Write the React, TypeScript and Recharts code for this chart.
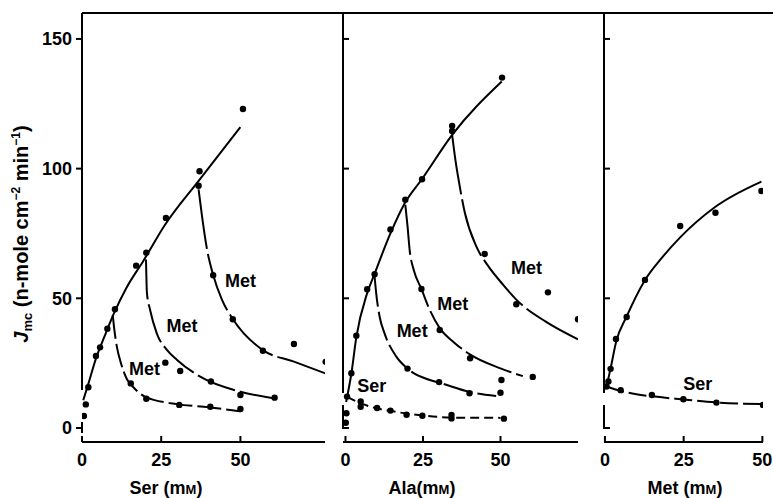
import React from 'react'
import { ComposedChart, Line, Scatter, XAxis, YAxis, ReferenceDot } from 'recharts'

const FONT = '"Liberation Sans", Arial, Helvetica, sans-serif'

// ---- Ser panel (left) ----
const serPtsX = [0.6, 1.2, 2.0, 4.4, 5.7, 8.0, 10.4, 17.1, 20.3, 26.5, 36.8, 37.1, 50.8]
const serPtsY = [4.6, 9.1, 15.7, 27.8, 31.1, 38.3, 45.8, 62.6, 67.6, 81.0, 93.4, 99.0, 123.0]
const serFitX = [0.4, 2, 4.6, 7, 10, 14, 19.4, 26, 37, 50]
const serFitY = [10.7, 17, 27.5, 35, 44, 54, 64.5, 78, 95.6, 116]

const serMetAX = [15.4, 20.3, 30.7, 40.5, 50.0]
const serMetAY = [17.2, 11.3, 8.9, 8.2, 7.3]
const serMetAFitX = [9.7, 10.2, 11, 12.3, 14.1, 16, 20, 30, 40, 50]
const serMetAFitY = [43.6, 38, 31.4, 25, 19, 16, 12, 9.2, 8, 6.4]

const serMetBX = [26.3, 31.0, 40.7, 50.0, 60.8]
const serMetBY = [25.2, 22.0, 17.9, 12.7, 11.7]
const serMetBFitX = [20.2, 20.5, 21.5, 23.6, 26.8, 30, 37.3, 50, 60.8]
const serMetBFitY = [65, 52, 45.5, 36.5, 30.1, 26.2, 19.8, 14, 11.4]

const serMetCX = [41.4, 47.6, 57.1, 66.9, 76.9]
const serMetCY = [58.9, 41.9, 29.8, 32.4, 25.5]
const serMetCFitX = [36.8, 37.9, 39.5, 41.4, 44.2, 47.6, 57.1, 66.9, 76.9]
const serMetCFitY = [92, 81.5, 68.6, 59, 49.4, 42, 30, 25.6, 21]

// ---- Ala panel (middle) ----
const alaPtsX = [0.5, 1.9, 3.5, 7.0, 9.4, 14.5, 19.3, 24.7, 34.4, 34.4, 50.5]
const alaPtsY = [12.1, 21.1, 35.6, 53.5, 59.3, 76.5, 88.0, 95.9, 116.5, 114.5, 135.1]
const alaFitX = [0.2, 1.9, 3.5, 7, 9.4, 14.5, 19.3, 24.7, 34.4, 50.4]
const alaFitY = [10, 21, 35, 52, 59.5, 75, 87, 96, 113, 133.6]

const alaMetAX = [20.0, 30.2, 40.0, 50.0]
const alaMetAY = [22.9, 17.7, 13.4, 13.6]
const alaMetAFitX = [9.4, 9.9, 11, 12.6, 16.4, 20, 27.2, 30.2, 40, 48.6]
const alaMetAFitY = [58.3, 52, 43, 36.5, 27.5, 22.9, 18.5, 17.5, 13.9, 12.3]

const alaMetBX = [24.5, 30.4, 40.2, 50.3, 60.4]
const alaMetBY = [53.6, 37.8, 26.9, 18.5, 19.7]
const alaMetBFitX = [19.3, 20, 20.7, 22, 24.5, 27, 30.4, 35, 40, 50, 57.2]
const alaMetBFitY = [86, 78, 68.6, 61, 53.6, 46, 38.5, 33, 28.5, 23, 20]

const alaMetCX = [44.9, 55.1, 65.3, 75.0]
const alaMetCY = [67.1, 47.7, 52.3, 41.9]
const alaMetCFitX = [34.4, 35.5, 36.3, 38.5, 42.2, 46, 50.8, 55.1, 64.6, 75]
const alaMetCFitY = [113, 103, 97, 83, 70, 62.5, 55.3, 49.5, 41, 34.2]

const alaSerX = [0.1, 0.3, 4.9, 4.9, 10.2, 14.5, 19.7, 24.8, 34.2, 34.2, 51.1]
const alaSerY = [2, 5.7, 10.2, 8.2, 7.7, 6.7, 5.1, 4.7, 5.0, 3.7, 3.6]
const alaSerFitX = [0.5, 5, 10, 15, 20, 25, 35, 50]
const alaSerFitY = [12, 9.5, 7.6, 6.5, 5.5, 4.8, 4.0, 3.9]

// ---- Met panel (right) ----
const metPtsX = [0.5, 1.1, 1.8, 3.5, 6.9, 12.7, 23.9, 35.1, 49.7]
const metPtsY = [16, 17.9, 22.8, 34.3, 42.8, 57.1, 77.9, 83.0, 91.4]
const metFitX = [0.3, 1.8, 3.5, 6.9, 12.7, 18, 23.9, 35.1, 49.7]
const metFitY = [15, 23, 33, 43, 57, 65.5, 73.5, 85.3, 95]

const metSerX = [5, 14.9, 24.9, 35.4, 50.2]
const metSerY = [14.6, 12.7, 11.1, 9.8, 8.9]
const metSerFitX = [0.5, 5, 10, 15, 25, 35, 50]
const metSerFitY = [16, 14.3, 13, 12.2, 11, 9.9, 9.2]

const yTicks = [0, 50, 100, 150]
const xTicks = [0, 25, 50]

type Pt = { x: number; y: number }
const zip = (xs: number[], ys: number[]): Pt[] => xs.map((x, i) => ({ x, y: ys[i] }))

type Curve = { data: Pt[]; dash?: string }
type Note = { x: number; y: number; text: string }

const dotShape = (p: any) => <circle cx={p.cx} cy={p.cy} r={3.2} fill="#000" />

// x ticks: short mark pointing up into the plot, label below
const XTick = (p: any) => (
  <g>
    <line x1={p.x} x2={p.x} y1={p.y - 11} y2={p.y - 17} stroke="#000" strokeWidth={2} />
    <text x={p.x} y={p.y + 13} textAnchor="middle" fontSize={18} fontWeight="bold" fontFamily={FONT} fill="#000">
      {p.payload.value}
    </text>
  </g>
)

// y ticks for the right-hand panels: mark pointing right, no label
const YTickIn = (p: any) => (
  <line x1={p.x} x2={p.x + 6} y1={p.y} y2={p.y} stroke="#000" strokeWidth={2} />
)

function Panel(props: {
  left: number
  width: number
  xDomain: [number, number]
  labelled: boolean
  curves: Curve[]
  points: Pt[][]
  notes: Note[]
}) {
  const { left, width, xDomain, labelled, curves, points, notes } = props
  const axisStyle = { stroke: '#000', strokeWidth: 2 }
  return (
    <div style={{ position: 'absolute', left, top: 0 }}>
      <ComposedChart
        width={width}
        height={498}
        margin={{ top: 13, right: 10, bottom: 26, left: labelled ? 32 : 0 }}
      >
        <XAxis
          type="number"
          dataKey="x"
          domain={xDomain}
          allowDataOverflow
          ticks={xTicks}
          height={30}
          tickSize={0}
          tickMargin={11}
          axisLine={axisStyle}
          tickLine={false}
          tick={XTick}
        />
        {labelled ? (
          <YAxis
            type="number"
            dataKey="y"
            domain={[-5.4, 160]}
            allowDataOverflow
            ticks={yTicks}
            width={50}
            tickSize={6}
            tickMargin={4}
            axisLine={{ ...axisStyle, strokeDasharray: '377 32 11 100' }}
            tickLine={axisStyle}
            tick={{ fill: '#000', fontSize: 18, fontWeight: 'bold', fontFamily: FONT }}
          />
        ) : (
          <YAxis
            type="number"
            dataKey="y"
            domain={[-5.4, 160]}
            allowDataOverflow
            ticks={yTicks}
            width={30}
            tickSize={0}
            tickMargin={0}
            axisLine={{ ...axisStyle, strokeDasharray: '380 12 24 100' }}
            tickLine={false}
            tick={YTickIn}
          />
        )}
        {curves.map((c, i) => (
          <Line
            key={'c' + i}
            data={c.data}
            dataKey="y"
            type="monotone"
            stroke="#000"
            strokeWidth={2}
            strokeDasharray={c.dash}
            dot={false}
            isAnimationActive={false}
          />
        ))}
        {points.map((p, i) => (
          <Scatter key={'p' + i} data={p} fill="#000" shape={dotShape} isAnimationActive={false} />
        ))}
        {notes.map((n, i) => (
          <ReferenceDot
            key={'n' + i}
            x={n.x}
            y={n.y}
            r={0}
            stroke="none"
            label={{ value: n.text, position: 'center', fill: '#000', fontSize: 18, fontWeight: 'bold', fontFamily: FONT }}
          />
        ))}
      </ComposedChart>
    </div>
  )
}

export default function App() {
  return (
    <div style={{ position: 'absolute', left: 0, top: 0, width: 773, height: 498, background: '#fff', fontFamily: FONT }}>
      <div style={{ position: 'absolute', left: 82, top: 12, width: 691, height: 2, background: '#000' }} />
      <Panel
        left={0}
        width={335}
        xDomain={[0, 76.7]}
        labelled
        curves={[
          { data: zip(serFitX, serFitY) },
          { data: zip(serMetAFitX, serMetAFitY), dash: '24 5' },
          { data: zip(serMetBFitX, serMetBFitY), dash: '40 5' },
          { data: zip(serMetCFitX, serMetCFitY), dash: '60 5' },
        ]}
        points={[zip(serPtsX, serPtsY), zip(serMetAX, serMetAY), zip(serMetBX, serMetBY), zip(serMetCX, serMetCY)]}
        notes={[
          { x: 50, y: 56.7, text: 'Met' },
          { x: 31.6, y: 39.3, text: 'Met' },
          { x: 19.7, y: 23, text: 'Met' },
        ]}
      />
      <Panel
        left={313}
        width={275}
        xDomain={[-0.8, 75]}
        labelled={false}
        curves={[
          { data: zip(alaFitX, alaFitY) },
          { data: zip(alaMetAFitX, alaMetAFitY), dash: '30 5' },
          { data: zip(alaMetBFitX, alaMetBFitY), dash: '50 5' },
          { data: zip(alaMetCFitX, alaMetCFitY), dash: '60 5' },
          { data: zip(alaSerFitX, alaSerFitY), dash: '9 5' },
        ]}
        points={[zip(alaPtsX, alaPtsY), zip(alaMetAX, alaMetAY), zip(alaMetBX, alaMetBY), zip(alaMetCX, alaMetCY), zip(alaSerX, alaSerY)]}
        notes={[
          { x: 58.4, y: 61.7, text: 'Met' },
          { x: 34.6, y: 47.8, text: 'Met' },
          { x: 21.5, y: 37.4, text: 'Met' },
          { x: 8.5, y: 16.5, text: 'Ser' },
        ]}
      />
      <Panel
        left={574}
        width={199}
        xDomain={[-0.3, 50.2]}
        labelled={false}
        curves={[
          { data: zip(metFitX, metFitY) },
          { data: zip(metSerFitX, metSerFitY), dash: '18 5' },
        ]}
        points={[zip(metPtsX, metPtsY), zip(metSerX, metSerY)]}
        notes={[{ x: 29.5, y: 17.3, text: 'Ser' }]}
      />
      <svg width={773} height={498} style={{ position: 'absolute', left: 0, top: 0, pointerEvents: 'none' }}>
        <g fontFamily={FONT} fontSize={18} fontWeight="bold" fill="#000" textAnchor="middle">
          <text x={166} y={494}>
            Ser (m<tspan fontSize={13}>M</tspan>)
          </text>
          <text x={422} y={494}>
            Ala(m<tspan fontSize={13}>M</tspan>)
          </text>
          <text x={685} y={494}>
            Met (m<tspan fontSize={13}>M</tspan>)
          </text>
        </g>
        <text transform="translate(28,234) rotate(-90)" fontFamily={FONT} fontSize={20} fontWeight="bold" fill="#000" textAnchor="middle">
          <tspan fontStyle="italic">J</tspan>
          <tspan fontSize={13} dy={4}>mc</tspan>
          <tspan dy={-4}> (n-mole cm</tspan>
          <tspan fontSize={12} dy={-8}>−2</tspan>
          <tspan dy={8}> min</tspan>
          <tspan fontSize={12} dy={-8}>−1</tspan>
          <tspan dy={8}>)</tspan>
        </text>
      </svg>
    </div>
  )
}
